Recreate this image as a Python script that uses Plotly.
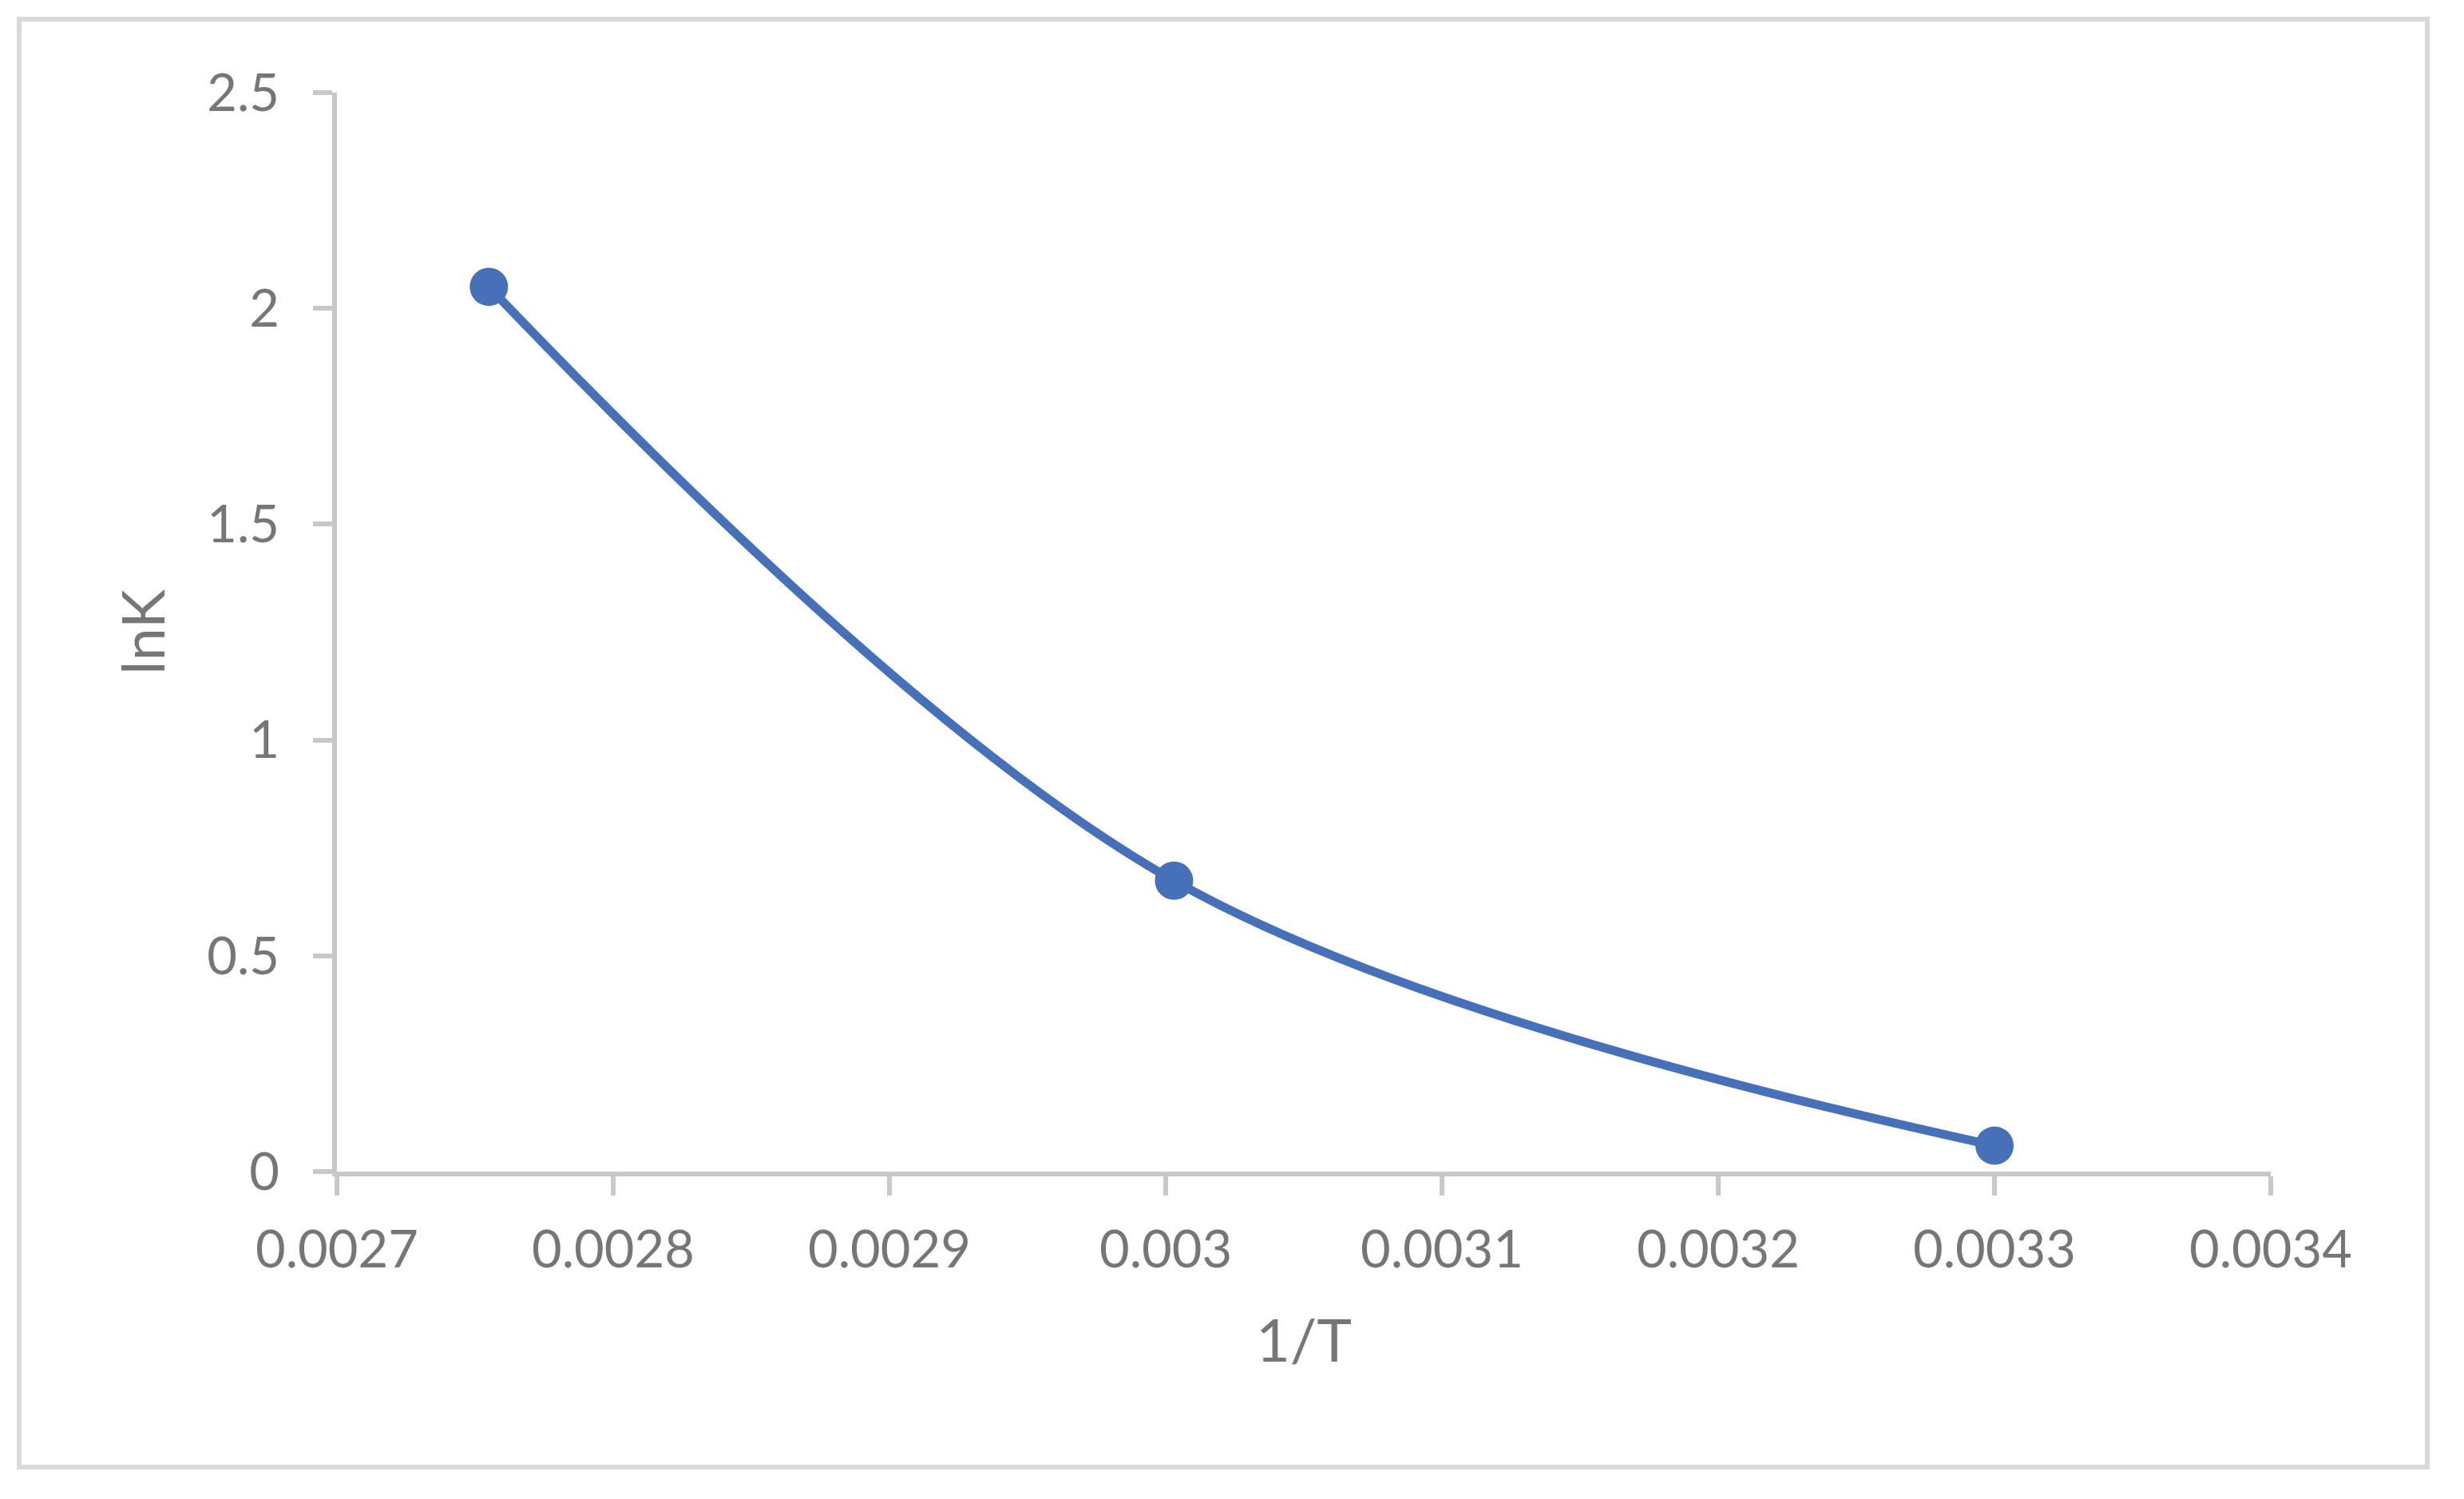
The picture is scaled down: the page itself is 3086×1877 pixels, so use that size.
import plotly.graph_objects as go

# Data
inv_T = [0.002755, 0.003003, 0.0033]
lnK = [2.05, 0.674, 0.06]

x_tick_vals = [0.0027, 0.0028, 0.0029, 0.003, 0.0031, 0.0032, 0.0033, 0.0034]
x_tick_text = ["0.0027", "0.0028", "0.0029", "0.003", "0.0031", "0.0032", "0.0033", "0.0034"]
y_tick_vals = [0, 0.5, 1, 1.5, 2, 2.5]
y_tick_text = ["0", "0.5", "1", "1.5", "2", "2.5"]

x_title = "1/T"
y_title = "lnK"

LINE_BLUE = "#4671B8"
AXIS_GRAY = "#c8c8c8"
TEXT_GRAY = "#767676"
BORDER_GRAY = "#d9d9d9"
FONT = "Lato"

fig = go.Figure()
fig.add_trace(go.Scatter(
    x=inv_T, y=lnK,
    mode="lines+markers",
    line=dict(color=LINE_BLUE, width=11, shape="spline"),
    marker=dict(color=LINE_BLUE, size=48),
    showlegend=False,
))

W, H = 3086, 1877
L, R, T, B = 422, 242, 116, 410
pw, ph = W - L - R, H - T - B

def px_to_paper_x(px):
    return (px - L) / pw

def px_to_paper_y(py):
    return (H - B - py) / ph

fig.add_shape(
    type="rect", xref="paper", yref="paper",
    x0=px_to_paper_x(24), x1=px_to_paper_x(3040),
    y0=px_to_paper_y(1837), y1=px_to_paper_y(24),
    line=dict(color=BORDER_GRAY, width=6),
    fillcolor="rgba(0,0,0,0)", layer="below",
)

axis_common = dict(
    showline=True, linecolor=AXIS_GRAY, linewidth=6,
    ticks="outside", ticklen=24, tickwidth=6, tickcolor=AXIS_GRAY,
    showgrid=False, zeroline=False,
    tickfont=dict(family=FONT, size=65, color=TEXT_GRAY),
)

fig.update_layout(
    width=W, height=H,
    margin=dict(l=L, r=R, t=T, b=B, autoexpand=False),
    paper_bgcolor="white", plot_bgcolor="white",
    xaxis=dict(
        range=[0.0027, 0.0034],
        tickmode="array", tickvals=x_tick_vals, ticktext=x_tick_text,
        title=dict(text=x_title, font=dict(family=FONT, size=74, color=TEXT_GRAY), standoff=55),
        ticklabelstandoff=12,
        **axis_common,
    ),
    yaxis=dict(
        range=[0, 2.5],
        tickmode="array", tickvals=y_tick_vals, ticktext=y_tick_text,
        title=dict(text=y_title, font=dict(family=FONT, size=74, color=TEXT_GRAY), standoff=30),
        ticklabelstandoff=29,
        **axis_common,
    ),
    font=dict(family=FONT),
)

fig.write_html("out.html")
